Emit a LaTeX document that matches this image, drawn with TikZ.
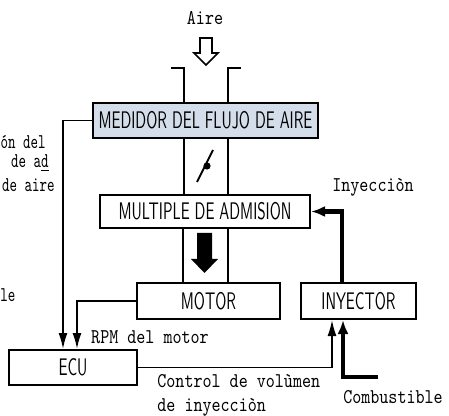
\documentclass[tikz,border=0pt]{standalone}
\usepackage{fontspec}
\usetikzlibrary{arrows.meta,positioning,calc}
\definecolor{medfill}{RGB}{212,222,234}
\tikzset{
  blk/.style={draw,line width=1pt,minimum height=17.5pt,inner sep=0pt},
  lbl/.style={inner sep=1pt},
  pipe/.style={line width=1pt},
  sig/.style={-{Latex[length=8pt,width=4.5pt]},line width=0.9pt},
  feed/.style={-{Latex[length=7pt,width=5.5pt]},line width=2.2pt},
}
\newcommand{\boxtxt}[1]{\scalebox{0.64}[1]{\sffamily\fontsize{12}{13}\selectfont #1}}
\newcommand{\txt}[2][0.82]{\scalebox{#1}[1]{\ttfamily\fontsize{10.5}{12}\selectfont #2}}

\begin{document}
\begin{tikzpicture}[x=0.5pt,y=-0.5pt]
  \useasboundingbox (0,0) rectangle (449,416);
  % blocks
  \node[blk,fill=medfill,minimum width=112.5pt] (medidor) at (205.5,120.5) {\boxtxt{MEDIDOR DEL FLUJO DE AIRE}};
  \node[blk,minimum width=105pt,minimum height=16.5pt] (multiple) at (205,211.5) {\boxtxt{MULTIPLE DE ADMISION}};
  \node[blk,minimum width=71.5pt,minimum height=18pt] (motor) at (208.5,301) {\boxtxt{MOTOR}};
  \node[blk,minimum width=57.5pt,minimum height=18pt] (inyector) at (358.5,301) {\boxtxt{INYECTOR}};
  \node[blk,minimum width=64pt] (ecu) at (73,367.5) {\boxtxt{ECU}};

  % air intake
  \node[lbl] (aire) at (205,18) {\txt{Aire}};
  \draw[line width=0.8pt,fill=white] (200,38) -- (212,38) -- (212,53) -- (218,53)
    -- (206,65) -- (194,53) -- (200,53) -- cycle;
  \draw[pipe] (171,68) -- (184,68) -- (184,0 |- medidor.north);
  \draw[pipe] (241,68) -- (228,68) -- (228,0 |- medidor.north);
  \draw[pipe] (184,0 |- medidor.south) -- (184,0 |- multiple.north);
  \draw[pipe] (228,0 |- medidor.south) -- (228,0 |- multiple.north);
  % throttle valve
  \draw[pipe] (197,182) -- (213,150);
  \fill (207,166) circle[radius=1.8pt];
  \draw[pipe] (183,0 |- multiple.south) -- (183,0 |- motor.north);
  \draw[pipe] (228,0 |- multiple.south) -- (228,0 |- motor.north);
  \fill (197,233) -- (212,233) -- (212,259) -- (218,259) -- (204.5,273)
    -- (191,259) -- (197,259) -- cycle;

  % signals to the ECU
  \draw[sig] (medidor.west) -| (63,0 |- ecu.north);
  \draw[sig] (motor.west) -| (77,0 |- ecu.north);
  \node[lbl] (rpm) at (150,337) {\txt{RPM del motor}};
  \draw[sig] (ecu.east) -| (332,0 |- inyector.south);
  \node[lbl,anchor=west] (control) at (155,395)
    {\txt{\begin{tabular}{@{}l@{}}Control de volùmen\\de inyecciòn\end{tabular}}};

  % fuel
  \coordinate (fuel) at (378,377);
  \draw[feed] (fuel) -| (343,0 |- inyector.south);
  \node[lbl] (comb) at (393,397) {\txt{Combustible}};
  \draw[feed] (342,0 |- inyector.north) |- (multiple.east);
  \node[lbl] (iny) at (373,187) {\txt{Inyecciòn}};

  % cut-off labels on the left
  \node[lbl,anchor=east,inner sep=0pt] (lft1) at (46,142) {\txt[0.68]{ón del}};
  \node[lbl,anchor=east,inner sep=0pt] (lft2) at (49,163) {\txt[0.68]{de a\underline{d}}};
  \node[lbl,anchor=east,inner sep=0pt] (lft3) at (55,185) {\txt[0.68]{de aire}};
  \node[lbl,anchor=west,inner sep=0pt] (lft4) at (0,295) {\txt[0.68]{le}};
\end{tikzpicture}
\end{document}
